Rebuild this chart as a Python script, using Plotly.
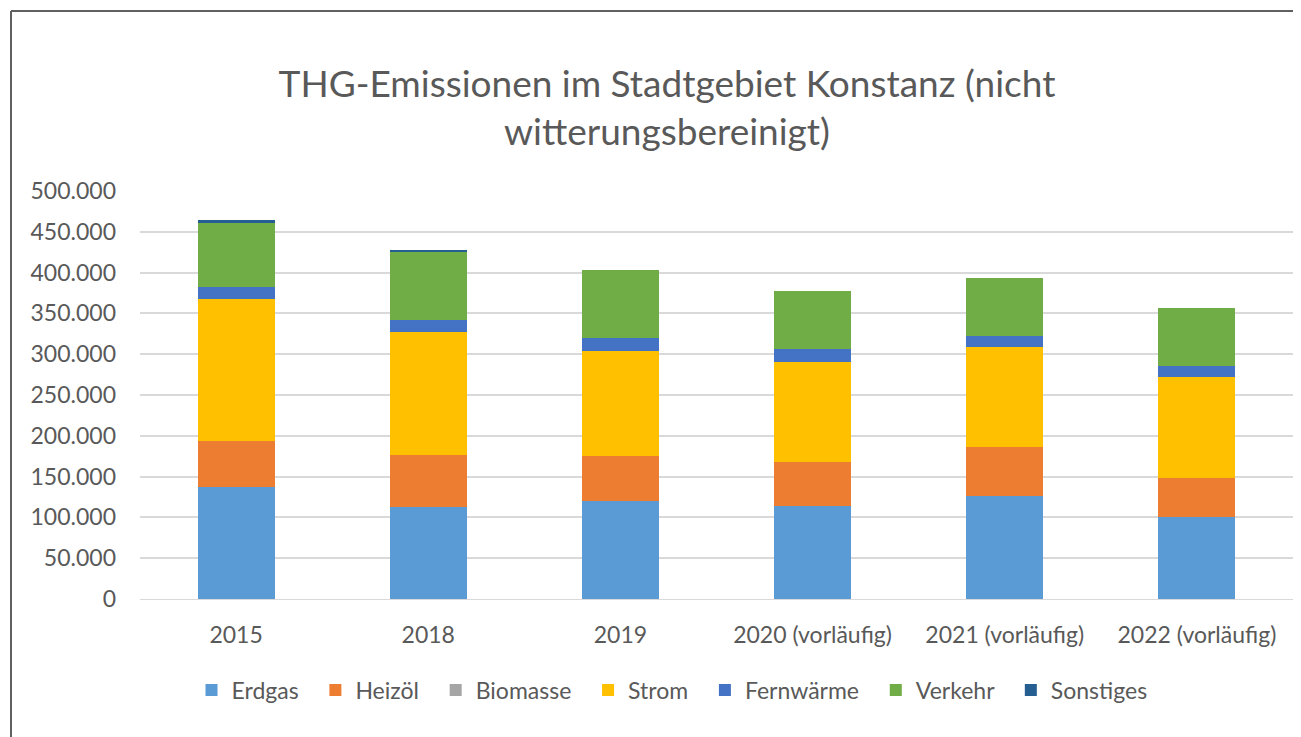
import plotly.graph_objects as go

years = ["2015", "2018", "2019", "2020 (vorläufig)", "2021 (vorläufig)", "2022 (vorläufig)"]
erdgas = [137000, 113100, 119900, 113400, 126500, 100200]
heizoel = [57100, 63000, 55600, 54800, 59600, 48300]
biomasse = [0, 0, 0, 0, 0, 0]
strom = [173300, 151100, 129000, 122100, 122600, 123300]
fernwaerme = [14700, 14700, 15500, 15900, 14000, 14000]
verkehr = [79200, 83300, 83300, 71100, 71100, 71100]
sonstiges = [3300, 2500, 0, 0, 0, 0]

series = [
    ("Erdgas", erdgas, "#5B9BD5"),
    ("Heizöl", heizoel, "#ED7D31"),
    ("Biomasse", biomasse, "#A5A5A5"),
    ("Strom", strom, "#FFC000"),
    ("Fernwärme", fernwaerme, "#4472C4"),
    ("Verkehr", verkehr, "#70AD47"),
    ("Sonstiges", sonstiges, "#255E91"),
]

FONT = "Lato"
GREY = "#595959"
PAD = "\u00a0" * 2

fig = go.Figure()
for name, vals, col in series:
    fig.add_trace(go.Bar(x=years, y=vals, name=name + PAD,
                         marker=dict(color=col, line=dict(width=0))))

# page body adds an 8px offset; work in screen pixels and convert
O = 8
W, H = 1301, 737
X0, X1, Y0, Y1 = 140 - O, 1293 - O, 191 - O, 599 - O
L, R, T, B = X0, W - X1, Y0, H - Y1
pw, ph = X1 - X0, Y1 - Y0

def px(x):
    return (x - O - L) / pw

def py(y):
    return (H - B - (y - O)) / ph

fig.update_layout(
    width=W, height=H,
    barmode="stack", bargap=0.6,
    separators=",.",
    paper_bgcolor="white", plot_bgcolor="white",
    margin=dict(l=L, r=R, t=T, b=B, autoexpand=False),
    font=dict(family=FONT, color=GREY, size=23),
    title=dict(
        text="THG-Emissionen im Stadtgebiet Konstanz (nicht<br>witterungsbereinigt)",
        x=(667 - O) / W, xanchor="center", xref="container",
        y=1 - 89 / H, yanchor="top", yref="container",
        font=dict(family=FONT, size=37, color=GREY),
    ),
    showlegend=True,
    legend=dict(
        orientation="h", x=px(678), xanchor="center", y=py(690), yanchor="middle",
        font=dict(family=FONT, size=23, color=GREY), traceorder="normal",
        itemwidth=30, itemsizing="constant",
    ),
    xaxis=dict(
        showgrid=False, showline=True, linecolor="#D9D9D9", linewidth=1,
        tickfont=dict(family=FONT, size=23, color=GREY), ticks="",
        ticklabelstandoff=15,
    ),
    yaxis=dict(
        range=[0, 500000], dtick=50000, tickformat=",d",
        showgrid=True, gridcolor="#D9D9D9", gridwidth=1.5,
        zeroline=False, showline=False, ticks="",
        tickfont=dict(family=FONT, size=23, color=GREY),
        ticklabelstandoff=23,
    ),
    shapes=[
        dict(type="line", xref="paper", yref="paper", x0=px(11), x1=px(11), y0=py(11), y1=py(760),
             line=dict(color="#606060", width=2)),
        dict(type="line", xref="paper", yref="paper", x0=px(11), x1=px(1320), y0=py(11), y1=py(11),
             line=dict(color="#606060", width=2)),
    ],
)

fig.write_html("out.html")
